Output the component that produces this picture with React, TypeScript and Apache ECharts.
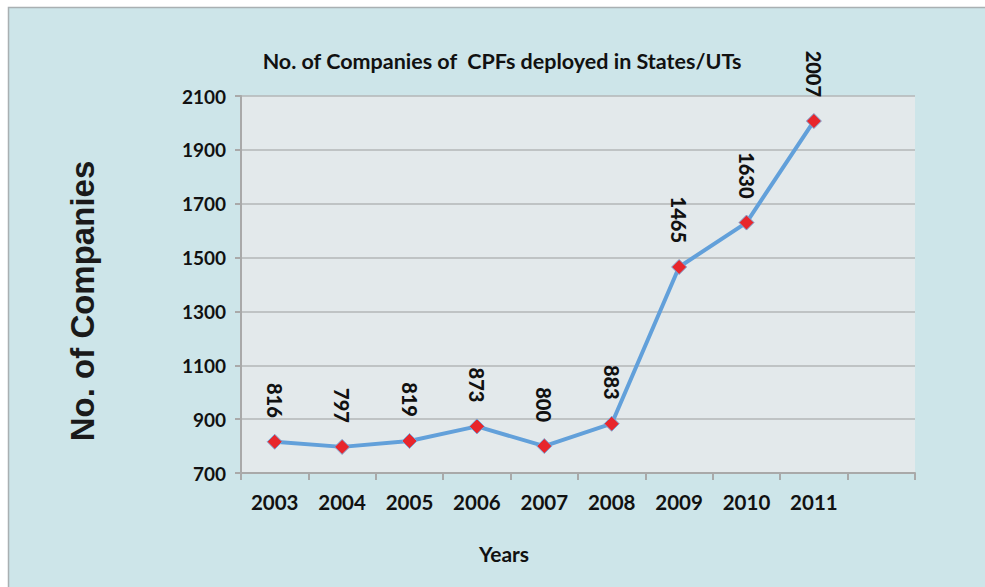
import React, { useEffect, useRef } from "react";
import * as echarts from "echarts";

const years = ["2003", "2004", "2005", "2006", "2007", "2008", "2009", "2010", "2011", ""];
const companies = [816, 797, 819, 873, 800, 883, 1465, 1630, 2007];
const yMin = 700;
const yMax = 2100;
const yStep = 200;

const titleText = "No. of Companies of  CPFs deployed in States/UTs";
const yName = "No. of Companies";
const xName = "Years";

export default function App() {
  const ref = useRef<HTMLDivElement>(null);
  useEffect(() => {
    document.body.style.margin = "0";
    document.body.style.overflow = "hidden";
    const chart = echarts.init(ref.current!, null, { renderer: "svg" });
    const font = "Lato, 'Open Sans', sans-serif";
    chart.setOption({
      animation: false,
      backgroundColor: "#ffffff",
      graphic: [
        {
          type: "rect",
          z: -10,
          silent: true,
          shape: { x: 8.5, y: 7.5, width: 985, height: 590 },
          style: { fill: "#cde5e9", stroke: "#a9b0b2", lineWidth: 1.5 },
        },
        {
          type: "text",
          x: 502,
          y: 61,
          style: {
            text: titleText,
            font: `bold 21.5px ${font}`,
            fill: "#111",
            align: "center",
            verticalAlign: "middle",
          },
        },
        {
          type: "text",
          x: 82,
          y: 301,
          rotation: Math.PI / 2,
          style: {
            text: yName,
            font: "bold 33px 'Liberation Sans', Arial, sans-serif",
            fill: "#1a1a1a",
            align: "center",
            verticalAlign: "middle",
          },
        },
        {
          type: "text",
          x: 504,
          y: 553,
          style: {
            text: xName,
            font: `bold 21px ${font}`,
            fill: "#111",
            align: "center",
            verticalAlign: "middle",
          },
        },
      ],
      grid: {
        left: 241,
        right: 70,
        top: 96,
        bottom: 114,
        show: true,
        backgroundColor: "#e3e9eb",
        borderWidth: 0,
      },
      xAxis: {
        type: "category",
        data: years,
        boundaryGap: true,
        axisLine: { show: true, lineStyle: { color: "#a9a9a9", width: 2 } },
        axisTick: { show: true, length: 7, lineStyle: { color: "#a9a9a9", width: 2 } },
        axisLabel: {
          margin: 18,
          fontFamily: font,
          fontWeight: 700,
          fontSize: 20.5,
          color: "#111",
        },
      },
      yAxis: {
        type: "value",
        min: yMin,
        max: yMax,
        interval: yStep,
        axisLine: { show: true, lineStyle: { color: "#a9a9a9", width: 2 } },
        axisTick: { show: true, length: 6, lineStyle: { color: "#a9a9a9", width: 2 } },
        splitLine: { show: true, lineStyle: { color: "#b3b6b7", width: 1.5 } },
        axisLabel: {
          margin: 15,
          fontFamily: font,
          fontWeight: 700,
          fontSize: 19,
          color: "#111",
          formatter: (v: number) => String(v),
        },
      },
      series: [
        {
          type: "line",
          data: companies,
          symbol: "diamond",
          symbolSize: 15,
          lineStyle: { color: "#62a0da", width: 4 },
          itemStyle: { color: "#e8262c", borderColor: "#7aa7d6", borderWidth: 1 },
          label: {
            show: true,
            position: "top",
            rotate: -90,
            align: "right",
            verticalAlign: "middle",
            distance: 16,
            fontFamily: font,
            fontWeight: 900,
            fontSize: 20,
            color: "#111",
            formatter: (p: any) => String(p.value),
          },
        },
      ],
    });
    return () => chart.dispose();
  }, []);
  return <div ref={ref} style={{ position: "fixed", left: 0, top: 0, width: 985, height: 587 }} />;
}
